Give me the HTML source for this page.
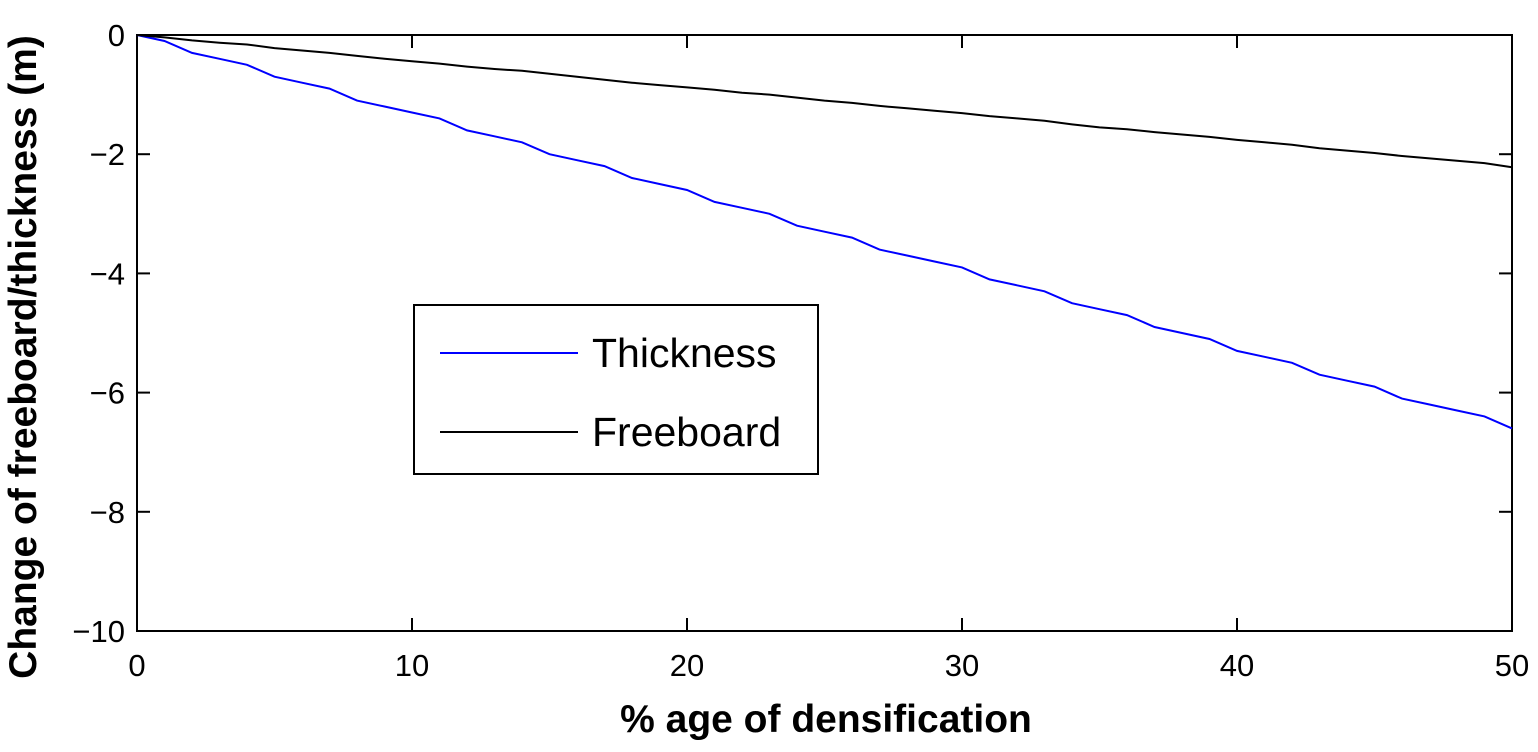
<!DOCTYPE html>
<html><head><meta charset="utf-8"><style>
body{margin:0;background:#fff;}
svg text{font-family:"Liberation Sans",Arial,sans-serif;}
</style></head><body>
<svg id="chart" width="1538" height="747" xmlns="http://www.w3.org/2000/svg"></svg>
<script>
const xTicks=[0,10,20,30,40,50];
const yTicks=[0,-2,-4,-6,-8,-10];
const xValues=[0,1,2,3,4,5,6,7,8,9,10,11,12,13,14,15,16,17,18,19,20,21,22,23,24,25,26,27,28,29,30,31,32,33,34,35,36,37,38,39,40,41,42,43,44,45,46,47,48,49,50];
const thickness=[0,-0.1,-0.3,-0.4,-0.5,-0.7,-0.8,-0.9,-1.1,-1.2,-1.3,-1.4,-1.6,-1.7,-1.8,-2.0,-2.1,-2.2,-2.4,-2.5,-2.6,-2.8,-2.9,-3.0,-3.2,-3.3,-3.4,-3.6,-3.7,-3.8,-3.9,-4.1,-4.2,-4.3,-4.5,-4.6,-4.7,-4.9,-5.0,-5.1,-5.3,-5.4,-5.5,-5.7,-5.8,-5.9,-6.1,-6.2,-6.3,-6.4,-6.6];
const freeboard=[0,-0.04,-0.09,-0.13,-0.16,-0.22,-0.26,-0.3,-0.35,-0.4,-0.44,-0.48,-0.53,-0.57,-0.6,-0.65,-0.7,-0.75,-0.8,-0.84,-0.88,-0.92,-0.97,-1.0,-1.05,-1.1,-1.14,-1.19,-1.23,-1.27,-1.31,-1.36,-1.4,-1.44,-1.5,-1.55,-1.58,-1.63,-1.67,-1.71,-1.76,-1.8,-1.84,-1.9,-1.94,-1.98,-2.03,-2.07,-2.11,-2.15,-2.22];
const L=137,R=1512,T=35,B=631;
const sx=v=>L+(v-0)/(50-0)*(R-L);
const sy=v=>T+(0-v)/(0-(-10))*(B-T);
const svg=document.getElementById('chart');
const NS='http://www.w3.org/2000/svg';
function mk(tag,attrs,parent){const e=document.createElementNS(NS,tag);for(const k in attrs)e.setAttribute(k,attrs[k]);(parent||svg).appendChild(e);return e;}
let frame=mk('rect',{x:L,y:T,width:R-L,height:B-T,fill:'#fff',stroke:'#000','stroke-width':2});


xTicks.forEach(v=>{
  const x=sx(v);
  mk('line',{x1:x,y1:B,x2:x,y2:B-13,stroke:'#000','stroke-width':2});
  mk('line',{x1:x,y1:T,x2:x,y2:T+13,stroke:'#000','stroke-width':2});
  const t=mk('text',{x:x,y:B+45,'font-size':31,'text-anchor':'middle'});
  t.textContent=v;
  
  
});
yTicks.forEach(v=>{
  const y=sy(v);
  mk('line',{x1:L,y1:y,x2:L+13,y2:y,stroke:'#000','stroke-width':2});
  mk('line',{x1:R,y1:y,x2:R-13,y2:y,stroke:'#000','stroke-width':2});
  const t=mk('text',{x:L-12,y:y+11,'font-size':31,'text-anchor':'end'});
  t.textContent=v<0?'\u2212'+(-v):v;
  
  
});
function line(vals,color,name){
  const d=vals.map((v,i)=>(i?'L':'M')+sx(xValues[i]).toFixed(1)+' '+sy(v).toFixed(1)).join(' ');
  const p=mk('path',{d:d,fill:'none',stroke:color,'stroke-width':2});
  
  
}
line(thickness,'#0000ff','thickness-line');
line(freeboard,'#000','freeboard-line');
const lg=mk('g',{});


mk('rect',{x:414,y:305,width:404,height:169,fill:'#fff',stroke:'#000','stroke-width':2},lg);
mk('line',{x1:440,y1:353,x2:578,y2:353,stroke:'#0000ff','stroke-width':2},lg);
mk('line',{x1:440,y1:432,x2:578,y2:432,stroke:'#000','stroke-width':2},lg);
let t1=mk('text',{x:592,y:367,'font-size':41},lg);t1.textContent='Thickness';


let t2=mk('text',{x:592,y:446,'font-size':41},lg);t2.textContent='Freeboard';


let xt=mk('text',{x:826,y:732,'font-size':39,'font-weight':'bold','text-anchor':'middle'});
xt.textContent='% age of densification';


let yt=mk('text',{x:0,y:0,'font-size':39,'font-weight':'bold','text-anchor':'middle',transform:'translate(36,357) rotate(-90)'});
yt.textContent='Change of freeboard/thickness (m)';


</script>
</body></html>
